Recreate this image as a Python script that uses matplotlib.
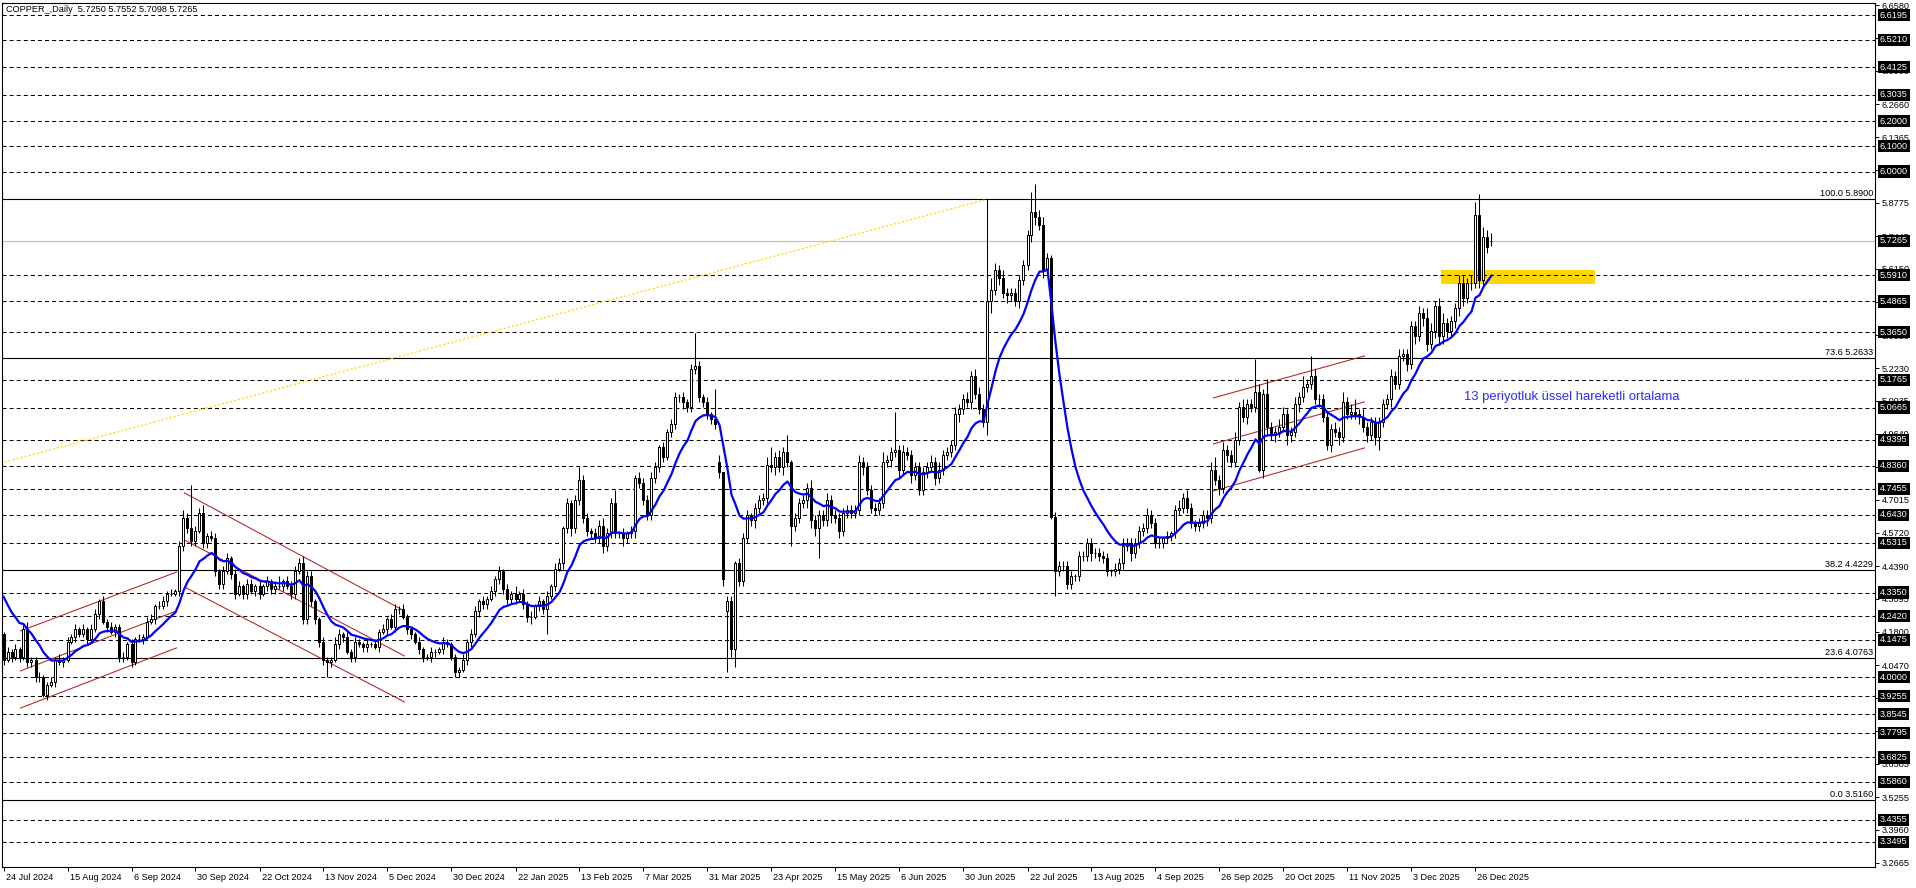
import matplotlib

matplotlib.use("Agg")
import matplotlib.pyplot as plt
import matplotlib.transforms as mtransforms
import numpy as np
from matplotlib.patches import Rectangle

plt.rcParams["font.family"] = ["Liberation Sans", "DejaVu Sans"]
plt.rcParams["lines.scale_dashes"] = False

chart_title = "COPPER_,Daily  5.7250 5.7552 5.7098 5.7265"
ema_note = "13 periyotluk üssel hareketli ortalama"

# daily closes, one per bar (24 Jul 2024 .. 2 Jan 2026)
closes = [
    4.07, 4.10, 4.08, 4.11, 4.08, 4.19, 4.06, 4.07, 4.00, 4.00, 3.93, 3.97, 3.98, 4.07, 4.06, 4.07, 4.14, 4.16, 4.19, 4.17,
    4.19, 4.15, 4.19, 4.25, 4.30, 4.22, 4.20, 4.18, 4.20, 4.08, 4.08, 4.13, 4.06, 4.15, 4.15, 4.16, 4.22, 4.23, 4.28, 4.28,
    4.30, 4.33, 4.33, 4.34, 4.52, 4.63, 4.59, 4.54, 4.58, 4.65, 4.53, 4.56, 4.55, 4.42, 4.37, 4.42, 4.47, 4.41, 4.33, 4.36,
    4.33, 4.37, 4.34, 4.36, 4.33, 4.36, 4.38, 4.35, 4.36, 4.36, 4.38, 4.36, 4.33, 4.42, 4.45, 4.23, 4.40, 4.30, 4.23, 4.14,
    4.07, 4.06, 4.07, 4.13, 4.17, 4.16, 4.10, 4.08, 4.14, 4.13, 4.12, 4.13, 4.13, 4.12, 4.18, 4.19, 4.23, 4.20, 4.27, 4.27,
    4.24, 4.19, 4.17, 4.14, 4.11, 4.08, 4.08, 4.10, 4.10, 4.11, 4.14, 4.13, 4.08, 4.02, 4.03, 4.07, 4.14, 4.17, 4.26, 4.30,
    4.29, 4.31, 4.34, 4.39, 4.42, 4.35, 4.31, 4.33, 4.31, 4.33, 4.29, 4.24, 4.24, 4.28, 4.30, 4.27, 4.32, 4.36, 4.43, 4.45,
    4.59, 4.69, 4.59, 4.70, 4.78, 4.63, 4.58, 4.57, 4.55, 4.60, 4.52, 4.57, 4.69, 4.57, 4.57, 4.55, 4.57, 4.58, 4.79, 4.77,
    4.70, 4.64, 4.79, 4.83, 4.91, 4.87, 4.97, 5.00, 5.11, 5.11, 5.09, 5.07, 5.22, 5.23, 5.11, 5.09, 5.04, 5.02, 5.00, 4.81,
    4.39, 4.30, 4.11, 4.45, 4.38, 4.55, 4.64, 4.62, 4.67, 4.70, 4.71, 4.84, 4.83, 4.87, 4.83, 4.89, 4.85, 4.60, 4.63, 4.69,
    4.70, 4.75, 4.62, 4.59, 4.64, 4.62, 4.70, 4.64, 4.63, 4.58, 4.65, 4.66, 4.65, 4.66, 4.85, 4.83, 4.74, 4.67, 4.66, 4.69,
    4.85, 4.86, 4.89, 4.90, 4.82, 4.89, 4.88, 4.80, 4.83, 4.74, 4.81, 4.83, 4.85, 4.79, 4.82, 4.88, 4.89, 4.92, 5.04, 5.06,
    5.10, 5.09, 5.19, 5.12, 5.06, 5.01, 5.49, 5.53, 5.61, 5.58, 5.52, 5.51, 5.52, 5.49, 5.57, 5.63, 5.75, 5.84, 5.82, 5.79,
    5.61, 5.66, 4.635, 4.42, 4.44, 4.44, 4.37, 4.40, 4.40, 4.48, 4.48, 4.53, 4.49, 4.49, 4.48, 4.47, 4.42, 4.42, 4.43, 4.45,
    4.52, 4.53, 4.49, 4.53, 4.58, 4.59, 4.64, 4.61, 4.53, 4.53, 4.55, 4.56, 4.57, 4.66, 4.67, 4.71, 4.67, 4.61, 4.60, 4.61,
    4.64, 4.63, 4.82, 4.78, 4.75, 4.90, 4.88, 4.85, 4.94, 5.07, 5.03, 5.08, 5.07, 5.13, 4.82, 5.12, 4.99, 4.96, 4.97, 4.99,
    5.04, 4.96, 4.97, 5.08, 5.11, 5.15, 5.16, 5.19, 5.10, 5.10, 5.03, 4.92, 4.98, 4.97, 4.95, 5.09, 5.04, 5.05, 5.04, 5.03,
    4.99, 4.96, 5.01, 4.95, 5.01, 5.08, 5.10, 5.19, 5.16, 5.27, 5.28, 5.24, 5.39, 5.35, 5.44, 5.42, 5.32, 5.37, 5.47, 5.35,
    5.40, 5.37, 5.41, 5.46, 5.56, 5.50, 5.56, 5.56, 5.83, 5.57, 5.74, 5.70, 5.7265,
]
first_open = 4.17
gap_opens = {179: 4.85, 181: 4.26, 372: 5.725}

# wick lengths above / below the body, in cents
up_wick = [
    1, 2, 1, 2, 1, 2, 3, 1, 1, 2, 1, 1, 2, 1, 2, 1, 2, 1, 2, 1,
    2, 1, 2, 2, 1, 2, 1, 2, 1, 1, 2, 1, 2, 1, 2, 1, 2, 2, 1, 2,
    2, 1, 2, 1, 2, 3, 2, 17, 2, 2, 3, 1, 2, 2, 1, 2, 2, 1, 2, 2,
    1, 2, 2, 1, 2, 1, 2, 1, 2, 4, 1, 2, 2, 2, 2, 3, 2, 2, 1, 1,
    2, 1, 1, 3, 2, 1, 2, 1, 2, 1, 1, 2, 1, 2, 1, 2, 1, 2, 2, 1,
    2, 1, 1, 1, 2, 1, 1, 2, 1, 1, 2, 1, 1, 1, 1, 2, 1, 2, 2, 1,
    2, 1, 2, 1, 2, 1, 2, 1, 3, 1, 2, 1, 2, 1, 2, 1, 2, 1, 2, 2,
    1, 2, 1, 2, 5, 2, 2, 1, 2, 2, 3, 2, 2, 5, 1, 2, 1, 2, 1, 2,
    2, 2, 2, 2, 1, 2, 1, 2, 2, 1, 2, 1, 2, 13, 2, 1, 2, 1, 12, 3,
    0, 2, 2, 1, 2, 2, 2, 1, 2, 2, 2, 3, 7, 2, 3, 2, 7, 1, 2, 2,
    2, 2, 3, 2, 2, 2, 3, 2, 2, 2, 2, 2, 2, 2, 3, 2, 2, 2, 2, 2,
    4, 2, 2, 15, 2, 3, 2, 2, 2, 2, 2, 2, 3, 2, 3, 2, 2, 2, 3, 2,
    2, 3, 2, 3, 3, 2, 40, 5, 3, 2, 3, 2, 2, 2, 2, 2, 2, 8, 11, 3,
    3, 2, 1, 2, 2, 2, 2, 2, 1, 2, 2, 2, 2, 2, 2, 2, 2, 1, 2, 2,
    3, 2, 2, 2, 2, 2, 3, 2, 2, 2, 1, 2, 1, 2, 3, 2, 3, 2, 1, 2,
    2, 2, 3, 5, 2, 3, 2, 2, 3, 2, 3, 2, 2, 13, 3, 2, 6, 2, 2, 3,
    3, 2, 2, 3, 2, 4, 2, 8, 3, 2, 2, 2, 2, 3, 2, 4, 2, 3, 5, 2,
    3, 2, 2, 2, 2, 2, 2, 3, 2, 3, 2, 2, 2, 2, 3, 2, 4, 3, 2, 3,
    4, 2, 2, 2, 3, 3, 2, 3, 5, 8, 4, 3, 3,
]
dn_wick = [
    2, 1, 2, 1, 2, 1, 2, 2, 2, 2, 1, 2, 1, 2, 1, 2, 1, 1, 2, 1,
    1, 2, 1, 1, 2, 1, 2, 1, 2, 2, 2, 1, 2, 1, 1, 2, 1, 1, 2, 1,
    1, 2, 1, 1, 2, 2, 2, 2, 2, 1, 2, 2, 1, 2, 2, 2, 1, 2, 2, 1,
    2, 2, 1, 2, 2, 1, 2, 2, 2, 1, 2, 1, 2, 2, 1, 2, 2, 2, 2, 2,
    2, 6, 2, 1, 2, 2, 1, 2, 2, 1, 2, 2, 1, 1, 2, 1, 2, 1, 2, 2,
    1, 2, 2, 1, 2, 2, 1, 2, 2, 1, 2, 1, 1, 2, 2, 1, 2, 2, 1, 2,
    2, 2, 1, 2, 2, 2, 2, 2, 2, 1, 2, 2, 3, 1, 2, 2, 10, 1, 2, 1,
    2, 2, 3, 2, 2, 2, 2, 2, 2, 2, 3, 2, 2, 2, 2, 3, 2, 2, 3, 2,
    2, 2, 2, 2, 2, 2, 1, 2, 2, 2, 3, 2, 2, 2, 2, 2, 2, 2, 2, 2,
    3, 24, 3, 7, 2, 2, 2, 2, 3, 2, 2, 2, 2, 3, 2, 3, 2, 8, 2, 2,
    2, 3, 3, 3, 12, 2, 2, 3, 2, 3, 2, 2, 2, 2, 2, 3, 2, 2, 2, 2,
    2, 2, 3, 2, 3, 2, 2, 3, 2, 2, 2, 2, 2, 3, 2, 2, 2, 2, 2, 3,
    2, 2, 3, 2, 2, 2, 5, 5, 2, 3, 2, 3, 2, 2, 3, 2, 2, 3, 3, 2,
    3, 2, 1, 10, 2, 2, 2, 2, 2, 2, 2, 2, 3, 2, 2, 2, 2, 2, 2, 2,
    2, 2, 3, 2, 2, 2, 2, 2, 2, 2, 2, 2, 2, 2, 2, 2, 2, 2, 2, 2,
    2, 3, 2, 2, 3, 2, 3, 2, 2, 2, 2, 3, 2, 2, 1, 3, 3, 2, 3, 2,
    2, 4, 3, 2, 3, 2, 2, 2, 2, 3, 2, 2, 3, 2, 3, 2, 2, 2, 2, 3,
    2, 3, 2, 3, 5, 2, 2, 3, 2, 2, 2, 3, 2, 3, 2, 3, 3, 2, 3, 3,
    3, 3, 2, 3, 3, 3, 2, 3, 2, 3, 3, 2, 2,
]

ema_period = 13
ema_seed = 4.36

date_labels = [
    "24 Jul 2024", "15 Aug 2024", "6 Sep 2024", "30 Sep 2024", "22 Oct 2024",
    "13 Nov 2024", "5 Dec 2024", "30 Dec 2024", "22 Jan 2025", "13 Feb 2025",
    "7 Mar 2025", "31 Mar 2025", "23 Apr 2025", "15 May 2025", "6 Jun 2025",
    "30 Jun 2025", "22 Jul 2025", "13 Aug 2025", "4 Sep 2025", "26 Sep 2025",
    "20 Oct 2025", "11 Nov 2025", "3 Dec 2025", "26 Dec 2025",
]
bars_per_label = 16

price_ticks = [
    "6.6580", "6.5285", "6.3990", "6.2660", "6.1365", "6.0070", "5.8775", "5.7445",
    "5.6150", "5.4855", "5.3525", "5.2230", "5.0935", "4.9640", "4.8330", "4.7015",
    "4.5720", "4.4390", "4.3095", "4.1800", "4.0470", "3.9175", "3.7855", "3.6585",
    "3.5255", "3.3960", "3.2665",
]
level_lines = [
    6.6195, 6.5210, 6.4125, 6.3035, 6.2000, 6.1000, 6.0000, 5.5910, 5.4865, 5.3650,
    5.1765, 5.0665, 4.9395, 4.8360, 4.7455, 4.6430, 4.5315, 4.3350, 4.2420, 4.1475,
    4.0000, 3.9255, 3.8545, 3.7795, 3.6825, 3.5860, 3.4355, 3.3495,
]
bid_price = 5.7265
fib_pct = [100.0, 73.6, 38.2, 23.6, 0.0]
fib_price = [5.8900, 5.2633, 4.4229, 4.0763, 3.5160]

# drawn objects: (bar, price) end points
channels = [
    [(4.25, 4.183), (43.25, 4.416)], [(4.25, 4.025), (43.25, 4.262)], [(4.25, 3.878), (43.25, 4.116)],
    [(45.25, 4.729), (100.25, 4.262)], [(45.25, 4.543), (100.25, 4.084)], [(45.25, 4.357), (100.25, 3.902)],
    [(302.5, 5.105), (340.25, 5.271)], [(302.5, 4.923), (340.25, 5.089)], [(302.5, 4.737), (340.25, 4.907)],
]
fib_trend = [(0.25, 4.851), (245.75, 5.890)]
zone_bars = (359.4, 397.9)
zone_prices = (5.555, 5.611)
note_anchor = (365.1, 5.108)

# ---- build OHLC ----
n = min(len(closes), len(up_wick), len(dn_wick))
c = np.asarray(closes[:n], dtype=float)
o = np.r_[first_open, c[:-1]]
for k, v in gap_opens.items():
    if k < n:
        o[k] = v
hi = np.maximum(o, c) + np.asarray(up_wick[:n]) / 100.0
lo = np.minimum(o, c) - np.asarray(dn_wick[:n]) / 100.0
x = np.arange(n)

alpha = 2.0 / (ema_period + 1)
ema = np.empty(n)
prev = ema_seed
for i in range(n):
    prev = prev + alpha * (c[i] - prev)
    ema[i] = prev

# ---- figure ----
W, H = 1916, 888
fig = plt.figure(figsize=(W / 100, H / 100), dpi=100)
ax = fig.add_axes([2 / W, 21 / H, 1873 / W, 864 / H])
ax.set_xlim(-0.375, 467.875)
ax.set_ylim(3.2493, 6.667)

for lv in level_lines:
    ax.axhline(lv, color="black", lw=0.75, dashes=(2.9, 2.2), zorder=2)
ax.axhline(bid_price, color="#c0c0c0", lw=0.8, zorder=2)

lab_tr = mtransforms.blended_transform_factory(ax.transAxes, ax.transData)
for pct, p in zip(fib_pct, fib_price):
    ax.axhline(p, color="black", lw=0.8, zorder=2)
    ax.text(1.0, p, f"{pct:.1f} {p:.4f}", fontsize=6.6, ha="right", va="bottom",
            transform=lab_tr + mtransforms.ScaledTranslation(-2 / 100, 1 / 100, fig.dpi_scale_trans),
            zorder=6)

ax.add_patch(Rectangle((zone_bars[0], zone_prices[0]), zone_bars[1] - zone_bars[0],
                       zone_prices[1] - zone_prices[0], fc="#ffd700", ec="none", zorder=1.5))

for seg in channels:
    (b0, p0), (b1, p1) = seg
    ax.plot([b0, b1], [p0, p1], color="#b22222", lw=0.75, zorder=2.5)
(b0, p0), (b1, p1) = fib_trend
ax.plot([b0, b1], [p0, p1], color="#ffd700", lw=0.9, dashes=(1.5, 1.5), zorder=2.5)

# candles
ax.vlines(x, lo, hi, color="black", lw=0.75, zorder=3)
bull = c >= o
ax.bar(x[bull], (c - o)[bull], bottom=o[bull], width=0.5, facecolor="white",
       edgecolor="black", linewidth=0.72, zorder=4)
ax.bar(x[~bull], (o - c)[~bull], bottom=c[~bull], width=0.5, facecolor="black",
       edgecolor="black", linewidth=0.72, zorder=4)

ax.plot(x, ema, color="#0000ff", lw=1.6, zorder=5)

ax.text(note_anchor[0], note_anchor[1], ema_note, color="#2b2bff", fontsize=9.4,
        ha="left", va="center", zorder=6)

ax.text(0, 1, chart_title, fontsize=6.6, ha="left", va="center",
        transform=ax.transAxes + mtransforms.ScaledTranslation(4 / 100, -6.5 / 100, fig.dpi_scale_trans),
        zorder=6)

# right price scale
ax.yaxis.tick_right()
ax.set_yticks([float(s) for s in price_ticks])
ax.set_yticklabels(price_ticks)
ax.tick_params(axis="y", length=3, width=0.7, pad=2, labelsize=6.6, colors="black")
for lv in level_lines + [bid_price]:
    ax.text(1.0, lv, f"{lv:.4f}", fontsize=6.6, color="white", ha="left", va="center",
            transform=lab_tr + mtransforms.ScaledTranslation(5 / 100, 0, fig.dpi_scale_trans),
            bbox=dict(boxstyle="square,pad=0.18", fc="black", ec="none"),
            clip_on=False, zorder=10)

# date scale
ax.set_xticks([k * bars_per_label for k in range(len(date_labels))])
ax.set_xticklabels(date_labels, ha="left")
ax.tick_params(axis="x", length=2.9, width=0.7, pad=1.5, labelsize=6.6, colors="black")
for lab in ax.get_xticklabels():
    lab.set_transform(lab.get_transform() + mtransforms.ScaledTranslation(2 / 100, 0, fig.dpi_scale_trans))

for sp in ax.spines.values():
    sp.set_color("black")
    sp.set_linewidth(0.8)

fig.savefig("out.png", dpi=100)
plt.close(fig)
